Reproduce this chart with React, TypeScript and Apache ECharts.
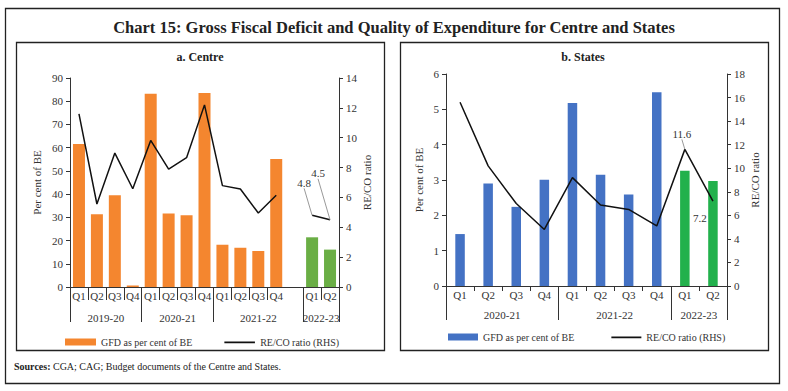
import React, { useEffect, useRef } from "react";
import * as echarts from "echarts";

// ---------- Data ----------
const centreQuarters = ["Q1", "Q2", "Q3", "Q4", "Q1", "Q2", "Q3", "Q4", "Q1", "Q2", "Q3", "Q4", "", "Q1", "Q2"];
const centreGfd: (number | null)[] = [61.6, 31.3, 39.5, 0.6, 83.2, 31.7, 30.9, 83.5, 18.2, 16.9, 15.5, 55.1, null, 21.4, 16.1];
const centreReco: (number | null)[] = [11.6, 5.56, 8.97, 6.58, 9.82, 7.9, 8.66, 12.2, 6.79, 6.56, 4.96, 6.14, null, 4.8, 4.5];
const centreYears = ["2019-20", "2020-21", "2021-22", "2022-23"];
const centreGroupSizes = [4, 4, 5, 2];

const statesQuarters = ["Q1", "Q2", "Q3", "Q4", "Q1", "Q2", "Q3", "Q4", "Q1", "Q2"];
const statesGfd = [1.47, 2.9, 2.24, 3.01, 5.18, 3.15, 2.59, 5.48, 3.26, 2.97];
const statesReco = [15.6, 10.2, 7.0, 4.8, 9.2, 6.87, 6.5, 5.1, 11.6, 7.2];
const statesYears = ["2020-21", "2021-22", "2022-23"];
const statesGroupSizes = [4, 4, 2];

const centreLeftTicks = { min: 0, max: 90, interval: 10 };
const centreRightTicks = { min: 0, max: 14, interval: 2 };
const statesLeftTicks = { min: 0, max: 6, interval: 1 };
const statesRightTicks = { min: 0, max: 18, interval: 2 };

// ---------- Styles ----------
const FONT = "Liberation Serif";
const ORANGE = "#F4862F";
const GREEN_C = "#6AAE45";
const BLUE = "#4472C4";
const GREEN_S = "#22B14C";
const AXIS = "#333";
const TXT = "#333";
const LINE_ICON = "path://M0,0h0.1v0.1h-0.1z M0,3.1h31v1.8h-31z M0,7h0.1v0.1h-0.1z";

function yearAxis(sizes: number[], years: string[]) {
  const total = sizes.reduce((a, b) => a + b, 0);
  const data: string[] = new Array(total * 2 + 1).fill("");
  const bounds = new Set<number>();
  const centers = new Set<number>();
  let start = 0;
  bounds.add(0);
  sizes.forEach((s, i) => {
    const end = start + s;
    const c = start + end; // half-index
    data[c] = years[i];
    centers.add(c);
    bounds.add(end * 2);
    start = end;
  });
  return { data, bounds, centers };
}

export default function App() {
  const ref = useRef<HTMLDivElement>(null);
  useEffect(() => {
    if (!ref.current) return;
    const chart = echarts.init(ref.current, undefined, { renderer: "svg" });
    const cy = yearAxis(centreGroupSizes, centreYears);
    const sy = yearAxis(statesGroupSizes, statesYears);
    const centreLastStart = centreGroupSizes.slice(0, -1).reduce((a, b) => a + b, 0);
    const statesLastStart = statesGroupSizes.slice(0, -1).reduce((a, b) => a + b, 0);

    const yBase = (side: "left" | "right", grid: number, t: any, name: string, gap: number) => ({
      type: "value",
      gridIndex: grid,
      position: side,
      min: t.min,
      max: t.max,
      interval: t.interval,
      name,
      nameLocation: "middle",
      nameRotate: 90,
      nameGap: gap,
      nameTextStyle: { fontFamily: FONT, fontSize: 11, color: TXT },
      axisLine: { show: true, lineStyle: { color: AXIS, width: 1 } },
      axisTick: { show: true, length: 4, lineStyle: { color: AXIS } },
      axisLabel: { fontFamily: FONT, fontSize: 11, color: TXT, margin: 7 },
      splitLine: { show: false },
    });

    const qAxis = (grid: number, data: string[], tickLen: number, margin: number) => ({
      type: "category",
      gridIndex: grid,
      data,
      position: "bottom",
      axisLine: { show: true, lineStyle: { color: AXIS, width: 1 } },
      axisTick: {
        show: true,
        length: tickLen,
        interval: (i: number) => data[i] !== "",
        lineStyle: { color: AXIS },
      },
      axisLabel: { interval: 0, fontFamily: FONT, fontSize: 11, color: TXT, margin },
    });

    const yrAxis = (grid: number, ya: any, tickLen: number, margin: number) => ({
      type: "category",
      gridIndex: grid,
      data: ya.data,
      boundaryGap: false,
      position: "bottom",
      axisLine: { show: false },
      axisTick: {
        show: true,
        length: tickLen,
        interval: (i: number) => ya.bounds.has(i),
        lineStyle: { color: AXIS },
      },
      axisLabel: {
        interval: (i: number) => ya.centers.has(i),
        fontFamily: FONT,
        fontSize: 11,
        color: TXT,
        margin,
      },
    });

    const labelStyle = { fontFamily: FONT, fontSize: 11, color: TXT };

    const centreLineData = centreReco.map((v, i) =>
      i >= centreLastStart && v !== null
        ? { value: v, label: { show: true, ...labelStyle, formatter: (p: any) => String(p.value) } }
        : v
    );
    const statesLineData = statesReco.map((v, i) =>
      i >= statesLastStart
        ? {
            value: v,
            label: { show: true, ...labelStyle, formatter: (p: any) => String(p.value) },
            labelLine: { show: i === statesLastStart },
          }
        : v
    );
    const centreOffsets: Record<number, [number, number]> = { 13: [-8, -22], 14: [-12, -36] };
    const statesOffsets: Record<number, [number, number]> = { 8: [-3, -5], 9: [-13, 27] };

    const legendText = { fontFamily: FONT, fontSize: 10, color: TXT };

    chart.setOption({
      animation: false,
      textStyle: { fontFamily: FONT },
      grid: [
        { left: 70, right: 788 - 339, top: 78, bottom: 391 - 287 },
        { left: 446, right: 788 - 727, top: 74, bottom: 391 - 286 },
      ],
      xAxis: [
        qAxis(0, centreQuarters, 13, 3),
        yrAxis(0, cy, 35, 25),
        qAxis(1, statesQuarters, 5, 3),
        yrAxis(1, sy, 34, 23),
      ],
      yAxis: [
        yBase("left", 0, centreLeftTicks, "Per cent of BE", 28),
        yBase("right", 0, centreRightTicks, "RE/CO ratio", 22),
        yBase("left", 1, statesLeftTicks, "Per cent of BE", 22),
        yBase("right", 1, statesRightTicks, "RE/CO ratio", 22),
      ],
      legend: [
        {
          left: 60,
          top: 332,
          itemGap: 32,
          selectedMode: false,
          textStyle: legendText,
          data: [
            { name: "GFD as per cent of BE", icon: "rect", itemStyle: { color: ORANGE } },
            { name: "RE/CO ratio (RHS)", icon: LINE_ICON, itemStyle: { color: "#111" } },
          ],
          itemWidth: 31,
          itemHeight: 7,
        },
        {
          left: 443,
          top: 327,
          itemGap: 37,
          selectedMode: false,
          textStyle: legendText,
          data: [
            { name: "GFD as per cent of BE", icon: "rect", itemStyle: { color: BLUE } },
            { name: "RE/CO ratio (RHS)", icon: LINE_ICON, itemStyle: { color: "#111" } },
          ],
          itemWidth: 30,
          itemHeight: 7,
        },
      ],
      series: [
        {
          name: "GFD as per cent of BE",
          type: "bar",
          xAxisIndex: 0,
          yAxisIndex: 0,
          barWidth: 12,
          itemStyle: { color: ORANGE },
          data: centreGfd.map((v, i) =>
            i >= centreLastStart ? { value: v, itemStyle: { color: GREEN_C } } : v
          ),
        },
        {
          name: "RE/CO ratio (RHS)",
          type: "line",
          xAxisIndex: 0,
          yAxisIndex: 1,
          symbol: "circle",
          symbolSize: 0.01,
          showSymbol: true,
          connectNulls: false,
          lineStyle: { color: "#111", width: 1.5 },
          itemStyle: { color: "rgba(0,0,0,0)" },
          data: centreLineData,
          labelLine: { show: true, lineStyle: { color: "#999", width: 1 } },
          labelLayout: (p: any) => {
            const o = centreOffsets[p.dataIndex];
            return o ? { dx: o[0], dy: o[1] } : {};
          },
        },
        {
          name: "GFD as per cent of BE",
          type: "bar",
          xAxisIndex: 2,
          yAxisIndex: 2,
          barWidth: 9.5,
          itemStyle: { color: BLUE },
          data: statesGfd.map((v, i) =>
            i >= statesLastStart ? { value: v, itemStyle: { color: GREEN_S } } : v
          ),
        },
        {
          name: "RE/CO ratio (RHS)",
          type: "line",
          xAxisIndex: 2,
          yAxisIndex: 3,
          symbol: "circle",
          symbolSize: 0.01,
          showSymbol: true,
          lineStyle: { color: "#111", width: 1.5 },
          itemStyle: { color: "rgba(0,0,0,0)" },
          data: statesLineData,
          labelLine: { show: true, lineStyle: { color: "#999", width: 1 } },
          labelLayout: (p: any) => {
            const o = statesOffsets[p.dataIndex];
            return o ? { dx: o[0], dy: o[1] } : {};
          },
        },
      ],
      graphic: [
        {
          type: "rect",
          shape: { x: 5.5, y: 8.5, width: 774, height: 375 },
          style: { fill: "none", stroke: "#222", lineWidth: 1.3 },
          silent: true,
        },
        {
          type: "rect",
          shape: { x: 16.5, y: 42.5, width: 368, height: 308 },
          style: { fill: "none", stroke: "#222", lineWidth: 1.3 },
          silent: true,
        },
        {
          type: "rect",
          shape: { x: 400.5, y: 42.5, width: 368, height: 308 },
          style: { fill: "none", stroke: "#222", lineWidth: 1.3 },
          silent: true,
        },
        {
          type: "text",
          x: 394,
          y: 27,
          style: {
            text: "Chart 15: Gross Fiscal Deficit and Quality of Expenditure for Centre and States",
            fontFamily: FONT,
            fontSize: 16.5,
            fontWeight: "bold",
            fill: "#222",
            align: "center",
            verticalAlign: "middle",
          },
        },
        {
          type: "text",
          x: 200,
          y: 57,
          style: {
            text: "a. Centre",
            fontFamily: FONT,
            fontSize: 12,
            fontWeight: "bold",
            fill: "#222",
            align: "center",
            verticalAlign: "middle",
          },
        },
        {
          type: "text",
          x: 583,
          y: 57,
          style: {
            text: "b. States",
            fontFamily: FONT,
            fontSize: 12,
            fontWeight: "bold",
            fill: "#222",
            align: "center",
            verticalAlign: "middle",
          },
        },
        {
          type: "text",
          x: 14,
          y: 366,
          style: {
            text: "{b|Sources:} CGA; CAG; Budget documents of the Centre and States.",
            fontFamily: FONT,
            fontSize: 10,
            fill: "#222",
            verticalAlign: "middle",
            rich: { b: { fontWeight: "bold", fontFamily: FONT, fontSize: 10, fill: "#222" } },
          },
        },
      ],
    });
    return () => chart.dispose();
  }, []);
  return (
    <div
      ref={ref}
      style={{ position: "absolute", left: 0, top: 0, width: 788, height: 391, background: "#fff" }}
    />
  );
}
